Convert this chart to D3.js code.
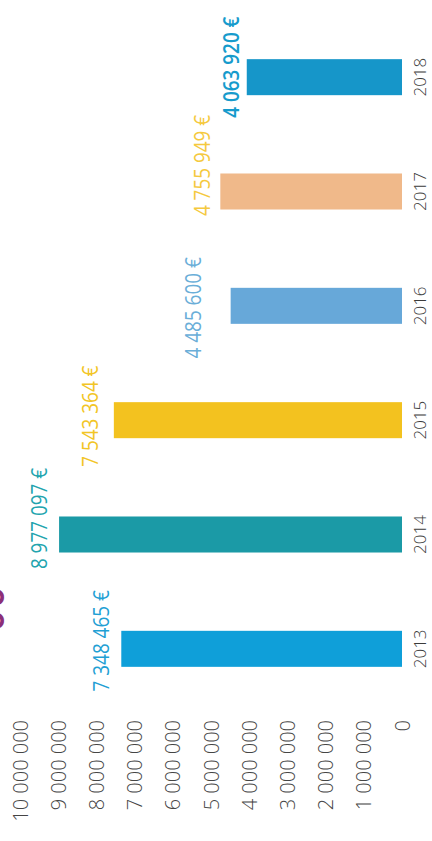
<!DOCTYPE html>
<html lang="fr">
<head>
<meta charset="utf-8">
<script src="https://cdn.jsdelivr.net/npm/d3@7"></script>
<style>
  html, body { margin: 0; padding: 0; background: #ffffff; }
  svg { display: block; }
  text { font-family: "Open Sans", "Noto Sans", sans-serif; }
</style>
</head>
<body>
<svg id="chart" width="432" height="841"></svg>
<script>
// Montants annuels (en euros)
const years   = ["2013", "2014", "2015", "2016", "2017", "2018"];
const amounts = [7348465, 8977097, 7543364, 4485600, 4755949, 4063920];

// Graduations de l'axe des montants
const tickValues = [0, 1000000, 2000000, 3000000, 4000000, 5000000,
                    6000000, 7000000, 8000000, 9000000, 10000000];

// Couleurs des barres et des étiquettes
const barColors   = ["#0f9fd9", "#1b9aa6", "#f3c21f", "#67a8d9", "#f0b98a", "#1696c9"];
const labelColors = ["#1fa0d4", "#22a4ae", "#f2c526", "#6aaed8", "#f5c93e", "#169bcc"];
const labelWeights = [400, 400, 400, 400, 400, 600];
// Placement des étiquettes : écart au bout de la barre et décalage le long de la barre (px)
const labelGap   = [12, 12, 16, 30, 10, 8];
const labelShift = [-8, -16, -4, 2, -26, -10];

const fr = d3.formatLocale({
  decimal: ",", thousands: "\u00a0", grouping: [3], currency: ["", "\u00a0€"]
});
const fmtTick = fr.format(",d");
const fmtEuro = d => fr.format(",d")(d) + "\u00a0€";

const svg = d3.select("#chart");

// Le graphique est couché : les montants croissent vers la gauche,
// les années se lisent de bas en haut.
const x = d3.scaleLinear().domain([0, 10000000]).range([402, 20]);
const y = d3.scaleBand()
  .domain(years.slice().reverse())
  .range([20, 706])
  .paddingInner(0.685)
  .paddingOuter(0.3425);

const rows = years.map((yr, i) => ({ yr, v: amounts[i], i }));

// Barres
svg.append("g").selectAll("rect")
  .data(rows)
  .join("rect")
  .attr("x", d => x(d.v))
  .attr("y", d => y(d.yr))
  .attr("width", d => x(0) - x(d.v))
  .attr("height", y.bandwidth())
  .attr("fill", d => barColors[d.i]);

// Années (axe des catégories)
svg.append("g").selectAll("text")
  .data(rows)
  .join("text")
  .attr("transform", d => `translate(420,${y(d.yr) + y.bandwidth() / 2}) rotate(-90)`)
  .attr("text-anchor", "middle")
  .attr("dy", "0.35em")
  .attr("font-size", 17)
  .attr("font-weight", 300)
  .attr("fill", "#3b3b3b")
  .text(d => d.yr);

// Étiquettes de valeur
svg.append("g").selectAll("text")
  .data(rows)
  .join("text")
  .attr("transform", d => `translate(${x(d.v) - labelGap[d.i]},${y(d.yr) + y.bandwidth() / 2 + labelShift[d.i]}) rotate(-90) scale(0.86,1)`)
  .attr("text-anchor", "middle")
  .attr("font-size", 22)
  .attr("font-weight", d => labelWeights[d.i])
  .attr("fill", d => labelColors[d.i])
  .text(d => fmtEuro(d.v));

// Axe des montants (en bas)
const axis = d3.axisBottom(x).tickValues(tickValues).tickFormat(fmtTick).tickSize(0);
const gAxis = svg.append("g").attr("transform", "translate(0,720)").call(axis);
gAxis.select(".domain").remove();
gAxis.selectAll(".tick text")
  .attr("y", 0)
  .attr("dy", "0.35em")
  .attr("transform", "rotate(-90)")
  .attr("text-anchor", "end")
  .attr("font-family", "\"Open Sans\", sans-serif")
  .attr("font-size", 20)
  .attr("font-weight", 300)
  .attr("fill", "#454545");

// Fragment du titre en marge gauche
svg.append("text")
  .attr("transform", "translate(4,630) rotate(-90)")
  .attr("font-size", 30)
  .attr("font-weight", 700)
  .attr("letter-spacing", 5)
  .attr("fill", "#8c2f78")
  .text("oo");
</script>
</body>
</html>
